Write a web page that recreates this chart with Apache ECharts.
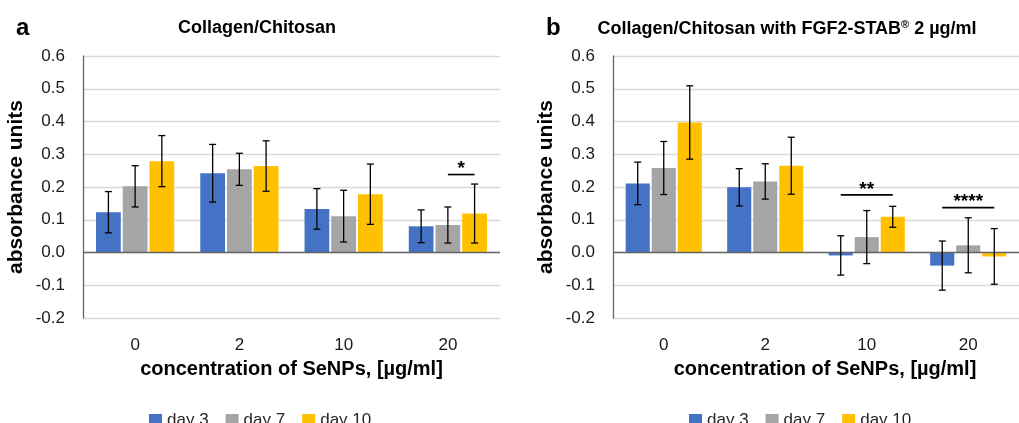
<!DOCTYPE html>
<html><head><meta charset="utf-8">
<script src="https://cdn.jsdelivr.net/npm/echarts@6/dist/echarts.min.js"></script>
<style>html,body{margin:0;padding:0;background:#fff}#c{width:1019px;height:423px}</style>
</head><body><div id="c"></div>
<script>
const categories = ['0', '2', '10', '20'];
const seriesNames = ['day 3', 'day 7', 'day 10'];
const colors = ['#4472C4', '#A5A5A5', '#FFC000'];
const yMin = -0.2, yMax = 0.6, yStep = 0.1;

// panel a: Collagen/Chitosan
const aDay3 = [0.123, 0.242, 0.133, 0.080];
const aDay7 = [0.202, 0.254, 0.111, 0.084];
const aDay10 = [0.279, 0.264, 0.178, 0.119];
const aErr3 = [0.063, 0.088, 0.062, 0.050];
const aErr7 = [0.063, 0.049, 0.079, 0.055];
const aErr10 = [0.078, 0.077, 0.092, 0.090];
// panel b: with FGF2-STAB
const bDay3 = [0.211, 0.199, -0.009, -0.040];
const bDay7 = [0.258, 0.217, 0.047, 0.022];
const bDay10 = [0.397, 0.265, 0.109, -0.012];
const bErr3 = [0.065, 0.057, 0.060, 0.075];
const bErr7 = [0.081, 0.054, 0.081, 0.084];
const bErr10 = [0.112, 0.087, 0.032, 0.085];
// significance: [category, fromSeries, toSeries, level, label]
const aSig = [[3, 1, 2, 0.238, '*']];
const bSig = [[2, 0, 2, 0.176, '**'], [3, 0, 2, 0.137, '****']];

const FONT = '"Liberation Sans", Arial, sans-serif';
const GAP = 0.08, CATGAP = 0.25;

function barOffset(api, si) {
  const band = api.size([1, 0])[0];
  const w = band * (1 - CATGAP) / (3 + 2 * GAP);
  return (si - 1) * w * (1 + GAP);
}
function errRender(params, api) {
  const cat = api.value(0), v = api.value(1), e = api.value(2), si = api.value(3);
  const top = api.coord([cat, v + e]);
  const bot = api.coord([cat, v - e]);
  const x = top[0] + barOffset(api, si);
  const cap = 3.5;
  const st = { stroke: '#000', lineWidth: 1.3 };
  return { type: 'group', children: [
    { type: 'line', shape: { x1: x, y1: top[1], x2: x, y2: bot[1] }, style: st },
    { type: 'line', shape: { x1: x - cap, y1: top[1], x2: x + cap, y2: top[1] }, style: st },
    { type: 'line', shape: { x1: x - cap, y1: bot[1], x2: x + cap, y2: bot[1] }, style: st }
  ]};
}
function sigRender(list) {
  return function (params, api) {
    const d = list[params.dataIndex];
    const p = api.coord([d[0], d[3]]);
    const x1 = p[0] + barOffset(api, d[1]);
    const x2 = p[0] + barOffset(api, d[2]);
    return { type: 'group', children: [
      { type: 'line', shape: { x1: x1, y1: p[1], x2: x2, y2: p[1] }, style: { stroke: '#000', lineWidth: 1.6 } },
      { type: 'text', x: (x1 + x2) / 2, y: p[1] + 4, style: { text: d[4], font: 'bold 19px ' + FONT, fill: '#000',
        textAlign: 'center', textVerticalAlign: 'bottom', align: 'center', verticalAlign: 'bottom' } }
    ]};
  };
}
function errData(vals, errs) {
  const out = [];
  vals.forEach((arr, s) => arr.forEach((v, c) => out.push([c, v, errs[s][c], s])));
  return out;
}

const grids = [{ left: 83, top: 56, width: 417, height: 262 }, { left: 613, top: 56, width: 417, height: 262 }];

function xAxisFor(i, pad) {
  return {
    type: 'category', gridIndex: i, data: categories,
    axisLine: { show: false }, axisTick: { show: false },
    axisLabel: { margin: 19, fontSize: 17, color: '#1a1a1a', fontFamily: FONT },
    name: 'concentration of SeNPs, [µg/ml]', nameLocation: 'middle', nameGap: 41,
    nameTextStyle: { fontSize: 20, fontWeight: 'bold', color: '#000', fontFamily: FONT, padding: pad }
  };
}
function yAxisFor(i) {
  return {
    type: 'value', gridIndex: i, min: yMin, max: yMax, interval: yStep,
    axisLine: { show: true, lineStyle: { color: '#666', width: 1.3 } }, axisTick: { show: false },
    axisLabel: { margin: 18, fontSize: 17, color: '#1a1a1a', fontFamily: FONT, formatter: v => v.toFixed(1) },
    splitLine: { lineStyle: { color: '#D9D9D9', width: 1.3 } },
    name: 'absorbance units', nameLocation: 'middle', nameGap: 56, nameRotate: 90,
    nameTextStyle: { fontSize: 21, fontWeight: 'bold', color: '#000', fontFamily: FONT }
  };
}

const series = [];
[[aDay3, aDay7, aDay10], [bDay3, bDay7, bDay10]].forEach((vals, g) => {
  vals.forEach((arr, s) => {
    const ser = {
      type: 'bar', name: seriesNames[s], xAxisIndex: g, yAxisIndex: g, data: arr,
      itemStyle: { color: colors[s] }, barGap: (GAP * 100) + '%', barCategoryGap: (CATGAP * 100) + '%',
      emphasis: { disabled: true }
    };
    if (s === 0) {
      ser.markLine = { silent: true, symbol: 'none', label: { show: false },
        lineStyle: { color: '#666', width: 1.3, type: 'solid' }, data: [{ yAxis: 0 }] };
    }
    series.push(ser);
  });
});
series.push({ type: 'custom', xAxisIndex: 0, yAxisIndex: 0, z: 5, renderItem: errRender,
  encode: { x: 0, y: 1 }, data: errData([aDay3, aDay7, aDay10], [aErr3, aErr7, aErr10]) });
series.push({ type: 'custom', xAxisIndex: 1, yAxisIndex: 1, z: 5, renderItem: errRender,
  encode: { x: 0, y: 1 }, data: errData([bDay3, bDay7, bDay10], [bErr3, bErr7, bErr10]) });
series.push({ type: 'custom', xAxisIndex: 0, yAxisIndex: 0, z: 5, renderItem: sigRender(aSig),
  encode: { x: 0, y: 3 }, data: aSig.map(d => [d[0], d[1], d[2], d[3]]) });
series.push({ type: 'custom', xAxisIndex: 1, yAxisIndex: 1, z: 5, renderItem: sigRender(bSig),
  encode: { x: 0, y: 3 }, data: bSig.map(d => [d[0], d[1], d[2], d[3]]) });

const legendBase = { data: seriesNames, top: 407, itemWidth: 13, itemHeight: 13, itemGap: 17, icon: 'rect',
  selectedMode: false, textStyle: { fontSize: 17, color: '#262626', fontFamily: FONT } };

const option = {
  animation: false,
  textStyle: { fontFamily: FONT },
  title: [
    { text: 'a', left: 11, top: 11, textStyle: { fontSize: 24, fontWeight: 'bold', color: '#000', fontFamily: FONT } },
    { text: 'Collagen/Chitosan', left: 252, textAlign: 'center', top: 14,
      textStyle: { fontSize: 18, fontWeight: 'bold', color: '#000', fontFamily: FONT } },
    { text: 'b', left: 541, top: 11, textStyle: { fontSize: 24, fontWeight: 'bold', color: '#000', fontFamily: FONT } },
    { text: 'Collagen/Chitosan with FGF2-STAB{s|®} 2 µg/ml', left: 782, textAlign: 'center', top: 14,
      textStyle: { fontSize: 18, fontWeight: 'bold', color: '#000', fontFamily: FONT,
        rich: { s: { fontSize: 11, fontWeight: 'bold', color: '#000', fontFamily: FONT, verticalAlign: 'top', padding: [0, 0, 9, 0] } } } }
  ],
  legend: [Object.assign({ left: 144 }, legendBase), Object.assign({ left: 684 }, legendBase)],
  grid: grids,
  xAxis: [xAxisFor(0, [0, 0, 0, 0]), xAxisFor(1, [0, 0, 0, 18])],
  yAxis: [yAxisFor(0), yAxisFor(1)],
  series: series
};
const chart = echarts.init(document.getElementById('c'), null, { renderer: 'canvas' });
chart.setOption(option);
</script></body></html>
